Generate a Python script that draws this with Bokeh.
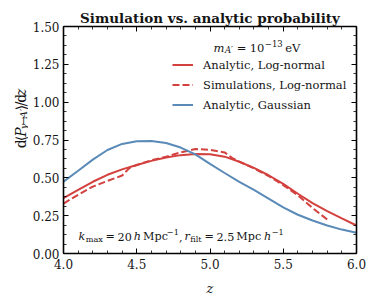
from bokeh.plotting import figure
from bokeh.layouts import row
from bokeh.models import (Label, Legend, LegendItem, FixedTicker, LinearAxis,
                          Range1d, PrintfTickFormatter)
from bokeh.embed import file_html
from bokeh.resources import INLINE

# ---------------- data ----------------
z_grid = [4.0, 4.1, 4.2, 4.3, 4.4, 4.5, 4.6, 4.7, 4.8, 4.9, 5.0,
          5.1, 5.2, 5.3, 5.4, 5.5, 5.6, 5.7, 5.8, 5.9, 6.0]
analytic_lognormal = [0.366, 0.420, 0.474, 0.520, 0.556, 0.585, 0.612, 0.635,
                      0.650, 0.657, 0.656, 0.640, 0.606, 0.566, 0.517, 0.460,
                      0.395, 0.333, 0.280, 0.232, 0.185]
analytic_gaussian = [0.475, 0.547, 0.620, 0.684, 0.724, 0.742, 0.744, 0.730,
                     0.700, 0.655, 0.592, 0.532, 0.474, 0.420, 0.363, 0.305,
                     0.256, 0.218, 0.185, 0.158, 0.137]
sim_z = [4.0, 4.1, 4.2, 4.3, 4.4, 4.45, 4.5, 4.6, 4.7, 4.8, 4.9, 5.0, 5.1,
         5.15, 5.2, 5.3, 5.4, 5.5, 5.6, 5.7, 5.8]
sim_lognormal = [0.330, 0.388, 0.442, 0.480, 0.515, 0.565, 0.585, 0.616, 0.640,
                 0.668, 0.690, 0.685, 0.668, 0.632, 0.607, 0.563, 0.512, 0.452,
                 0.385, 0.300, 0.225]

x_major = [4.0, 4.5, 5.0, 5.5, 6.0]
x_minor = [4.1, 4.2, 4.3, 4.4, 4.6, 4.7, 4.8, 4.9, 5.1, 5.2, 5.3, 5.4,
           5.6, 5.7, 5.8, 5.9]
y_major = [0.0, 0.25, 0.5, 0.75, 1.0, 1.25, 1.5]
y_minor = [k * 0.0625 for k in range(25)]

legend_labels = ["Analytic, Log-normal", "Simulations, Log-normal",
                 "Analytic, Gaussian"]
title_text = "Simulation vs. analytic probability"
x_label = "z"

RED = "#d3413f"
BLUE = "#5a8ab8"
TXT = "#151515"
FONT = "DejaVu Serif"

X0, X1, Y0, Y1 = 4.0, 6.0, 0.0, 1.5
W, H = 374, 304
LW = 28                              # width of the y-label strip
FL, FT, FW, FH = 63, 26, 293, 227    # frame in page pixels

# ---------------- main figure ----------------
p = figure(width=W - LW, height=H, x_range=Range1d(X0, X1), y_range=Range1d(Y0, Y1),
           output_backend="svg", toolbar_location=None,
           min_border_left=FL - LW, min_border_right=W - FL - FW,
           min_border_top=FT, min_border_bottom=H - FT - FH,
           background_fill_color="white", border_fill_color="white",
           outline_line_color=None)
p.grid.visible = False

p.title.text = title_text
p.title.text_font = FONT
p.title.text_font_size = "13.5px"
p.title.text_font_style = "bold"
p.title.text_color = TXT
p.title.align = "center"
p.title.standoff = 2

p.add_layout(LinearAxis(), "above")
p.add_layout(LinearAxis(), "right")

for ax in p.xaxis:
    ax.ticker = FixedTicker(ticks=x_major, minor_ticks=x_minor)
    ax.formatter = PrintfTickFormatter(format="%.1f")
    ax.major_label_standoff = 5
for ax in p.yaxis:
    ax.ticker = FixedTicker(ticks=y_major, minor_ticks=y_minor)
    ax.formatter = PrintfTickFormatter(format="%.2f")
    ax.major_label_standoff = 4
for ax in p.axis:
    ax.axis_line_color = "black"
    ax.axis_line_width = 1.6
    ax.major_tick_in = 5
    ax.major_tick_out = 0
    ax.minor_tick_in = 3
    ax.minor_tick_out = 0
    ax.major_tick_line_color = "black"
    ax.minor_tick_line_color = "black"
    ax.major_tick_line_width = 1
    ax.minor_tick_line_width = 0.8
    ax.major_label_text_font = FONT
    ax.major_label_text_font_size = "12px"
    ax.major_label_text_color = TXT
for ax in (p.above[0], p.right[0]):
    ax.major_label_text_font_size = "0px"
    ax.major_label_text_alpha = 0
    ax.major_label_standoff = 0

xb = p.below[0]
xb.axis_label = x_label
xb.axis_label_text_font = FONT
xb.axis_label_text_font_style = "italic"
xb.axis_label_text_font_size = "13px"
xb.axis_label_text_color = TXT
xb.axis_label_standoff = 9

r1 = p.line(z_grid, analytic_lognormal, line_color=RED, line_width=2)
r2 = p.line(sim_z, sim_lognormal, line_color=RED, line_width=2, line_dash="7 3")
r3 = p.line(z_grid, analytic_gaussian, line_color=BLUE, line_width=2)

legend = Legend(items=[LegendItem(label=legend_labels[0], renderers=[r1]),
                       LegendItem(label=legend_labels[1], renderers=[r2]),
                       LegendItem(label=legend_labels[2], renderers=[r3])],
                location=(109, 140), margin=0, padding=0, spacing=3,
                glyph_width=21, glyph_height=17, label_height=17,
                label_standoff=10, border_line_color=None,
                background_fill_alpha=0, label_text_font=FONT,
                label_text_font_size="11.5px", label_text_color=TXT)
p.add_layout(legend)

# ---------------- y-label strip ----------------
lab = figure(width=LW, height=H, x_range=Range1d(0, LW), y_range=Range1d(0, H),
             output_backend="svg", toolbar_location=None, min_border=0,
             outline_line_color=None, background_fill_color="white",
             border_fill_color="white")
lab.axis.visible = False
lab.grid.visible = False

# ------------- rich text helper (text positions only) -------------
EM = {' ': .318, '.': .318, ',': .318, '=': .838, '−': .838, '/': .337,
      'e': .592, 'V': .722, 'M': .872, 'p': .64, 'c': .563, 'h': .644,
      'k': .6, 'm': .948, 'a': .596, 'x': .564, 'r': .478, 'f': .37,
      'i': .32, 'l': .32, 't': .402, 'A': .722, '′': .3, 'd': .64, 'z': .525,
      'P': .66, '⟨': .39, '⟩': .39, 'γ': .6, '→': .838}
for dgt in "0123456789":
    EM[dgt] = .636


def main_map(px, py):
    return (X0 + (px - FL) / FW * (X1 - X0), Y0 + (FT + FH - py) / FH * (Y1 - Y0))


def strip_map(px, py):
    return px, H - py


def rich(fig, mapper, pieces, x_px, y_px, angle=0.0):
    pos = 0.0
    for text, size, style, shift, gap in pieces:
        pos += gap
        if angle == 0:
            px, py = x_px + pos, y_px - shift
        else:
            px, py = x_px - shift, y_px - pos
        xd, yd = mapper(px, py)
        fig.add_layout(Label(x=xd, y=yd, text=text, text_font=FONT,
                             text_font_size=f"{size}px", text_font_style=style,
                             text_baseline="alphabetic", text_align="left",
                             angle=angle, text_color=TXT))
        pos += sum(EM.get(c, .6) for c in text) * size


M, S = 11.5, 8.5
# legend title
rich(p, main_map,
     [("m", M, "italic", 0, 0), ("A′", S, "italic", -2.5, 0.5),
      ("=", M, "normal", 0, 3.2), ("10", M, "normal", 0, 3.2),
      ("−13", S, "normal", 4.5, 0.5), ("eV", M, "normal", 0, 2.5)], 213, 47)
# bottom annotation
BM, BS = 11.2, 8.2
rich(p, main_map,
     [("k", BM, "italic", 0, 0), ("max", BS, "normal", -2.5, 0.5),
      ("=", BM, "normal", 0, 2.6), ("20", BM, "normal", 0, 2.6),
      ("h", BM, "italic", 0, 2), ("Mpc", BM, "normal", 0, 2),
      ("−1", BS, "normal", 4.5, 0.5), (",", BM, "normal", 0, 0),
      ("r", BM, "italic", 0, 2), ("filt", BS, "normal", -2.5, 0.5),
      ("=", BM, "normal", 0, 2.6), ("2.5", BM, "normal", 0, 2.6),
      ("Mpc", BM, "normal", 0, 2), ("h", BM, "italic", 0, 4.5),
      ("−1", BS, "normal", 4.5, 0.5)], 78, 236)
# y label (rotated), drawn in the strip
YM, YS = 14, 10
rich(lab, strip_map,
     [("d", YM, "normal", 0, 0), ("⟨", YM, "normal", 0, 0.5),
      ("P", YM, "italic", 0, 0.5), ("γ", YS, "italic", -3, 0.5),
      ("→", YS, "normal", -3, 0.3), ("A′", YS, "italic", -3, 0.3),
      ("⟩", YM, "normal", 0, 0.5), ("/", YM, "normal", 0, 0),
      ("d", YM, "normal", 0, 0), ("z", YM, "italic", 0, 0)], 20, 163,
     angle=1.5707963267948966)

layout = row(lab, p, spacing=0)
open("out.html", "w").write(file_html(layout, INLINE))
